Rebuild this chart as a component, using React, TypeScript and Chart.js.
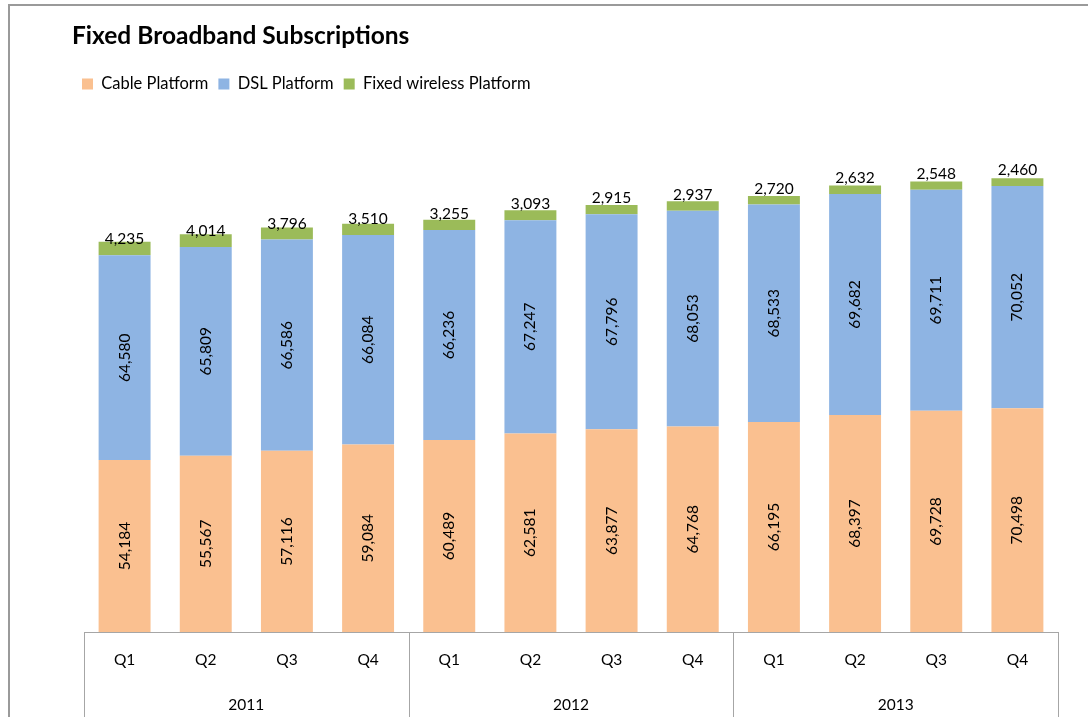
import React, { useEffect, useRef } from "react";
import { Chart, registerables } from "chart.js";

Chart.register(...registerables);

const quarters = ["Q1", "Q2", "Q3", "Q4", "Q1", "Q2", "Q3", "Q4", "Q1", "Q2", "Q3", "Q4"];
const years = ["2011", "2012", "2013"];
const cable = [54184, 55567, 57116, 59084, 60489, 62581, 63877, 64768, 66195, 68397, 69728, 70498];
const dsl = [64580, 65809, 66586, 66084, 66236, 67247, 67796, 68053, 68533, 69682, 69711, 70052];
const wireless = [4235, 4014, 3796, 3510, 3255, 3093, 2915, 2937, 2720, 2632, 2548, 2460];
const yMax = 167000;

const FONT = "Lato, 'Open Sans', sans-serif";
const fmt = (v: number) => v.toLocaleString("en-US");

const decorPlugin = {
  id: "decor",
  afterDraw(chart: any) {
    const ctx = chart.ctx;
    const ca = chart.chartArea;
    const x = chart.scales.x;
    const H = chart.height;
    ctx.save();
    // outer border
    ctx.strokeStyle = "#9a9a9a";
    ctx.lineWidth = 2;
    ctx.beginPath();
    ctx.moveTo(9, H + 2);
    ctx.lineTo(9, 5);
    ctx.lineTo(chart.width + 2, 5);
    ctx.stroke();

    // data labels
    ctx.fillStyle = "#000";
    ctx.font = `15.5px ${FONT}`;
    chart.data.datasets.forEach((ds: any, di: number) => {
      const meta = chart.getDatasetMeta(di);
      meta.data.forEach((bar: any, i: number) => {
        const v = ds.data[i];
        const txt = fmt(v);
        if (di < 2) {
          const cy = (bar.y + bar.base) / 2;
          ctx.save();
          ctx.translate(bar.x, cy);
          ctx.rotate(-Math.PI / 2);
          ctx.textAlign = "center";
          ctx.textBaseline = "middle";
          ctx.fillText(txt, 0, 0);
          ctx.restore();
        } else {
          ctx.textAlign = "center";
          ctx.textBaseline = "alphabetic";
          ctx.fillText(txt, bar.x, bar.base - 11);
        }
      });
    });

    // multi-level category axis
    const n = quarters.length;
    const cw = (x.right - x.left) / n;
    const y0 = ca.bottom;
    ctx.strokeStyle = "#a6a6a6";
    ctx.lineWidth = 1;
    ctx.beginPath();
    ctx.moveTo(x.left, y0 + 0.5);
    ctx.lineTo(x.right, y0 + 0.5);
    for (let g = 0; g <= years.length; g++) {
      const px = Math.round(x.left + g * 4 * cw) + 0.5;
      ctx.moveTo(px, y0);
      ctx.lineTo(px, H + 2);
    }
    ctx.stroke();

    ctx.fillStyle = "#000";
    ctx.font = `15.5px ${FONT}`;
    ctx.textAlign = "center";
    ctx.textBaseline = "middle";
    quarters.forEach((q, i) => {
      ctx.fillText(q, x.getPixelForValue(i), y0 + 28);
    });
    years.forEach((yr, g) => {
      ctx.fillText(yr, x.left + (g * 4 + 2) * cw, y0 + 73);
    });
    ctx.restore();
  },
};

export default function App() {
  const ref = useRef<HTMLCanvasElement>(null);
  useEffect(() => {
    document.body.style.margin = "0";
    const chart = new Chart(ref.current as HTMLCanvasElement, {
      type: "bar",
      data: {
        labels: quarters,
        datasets: [
          { label: "Cable Platform", data: cable, backgroundColor: "#FAC090" },
          { label: "DSL Platform", data: dsl, backgroundColor: "#8EB4E3" },
          { label: "Fixed wireless Platform", data: wireless, backgroundColor: "#9BBB59" },
        ],
      },
      options: {
        responsive: false,
        animation: false,
        layout: { padding: { left: 72, right: 30, top: 21, bottom: 85 } },
        datasets: { bar: { categoryPercentage: 1, barPercentage: 0.64, borderWidth: 0 } },
        scales: {
          x: { stacked: true, display: false },
          y: {
            stacked: true,
            min: 0,
            max: yMax,
            display: true,
            grid: { display: false },
            border: { display: false },
            ticks: { display: false },
            afterFit: (s: any) => {
              s.width = 12;
            },
          },
        },
        plugins: {
          title: {
            display: true,
            text: "Fixed Broadband Subscriptions",
            align: "start",
            color: "#000",
            font: { family: FONT, size: 24.5, weight: "bold" },
            padding: { top: 0, bottom: 15.3 },
          },
          legend: {
            display: true,
            align: "start",
            labels: {
              boxWidth: 11,
              boxHeight: 11,
              color: "#000",
              padding: 10,
              font: { family: FONT, size: 16.5 },
            },
          },
          tooltip: { enabled: false },
        },
      },
      plugins: [decorPlugin],
    });
    return () => chart.destroy();
  }, []);
  return <canvas ref={ref} width={1088} height={717} style={{ display: "block" }} />;
}
